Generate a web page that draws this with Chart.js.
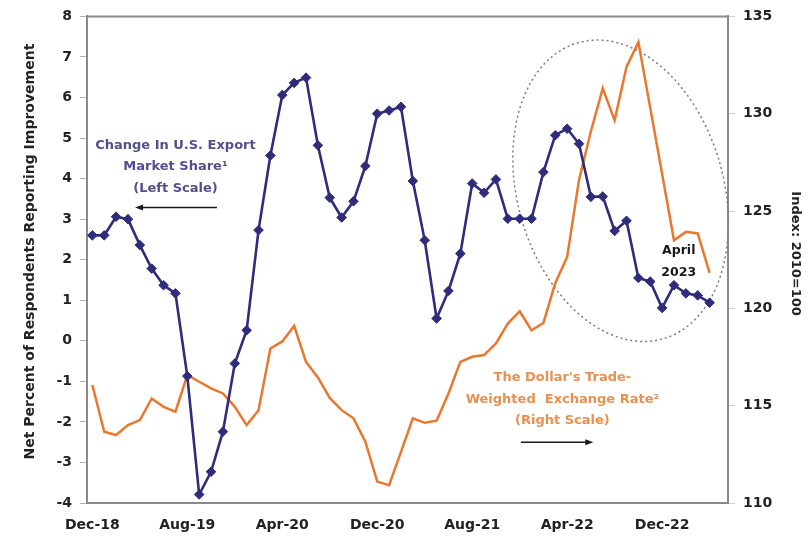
<!DOCTYPE html>
<html>
<head>
<meta charset="utf-8">
<script src="https://cdn.jsdelivr.net/npm/chart.js@4.4.1/dist/chart.umd.min.js"></script>
<style>
    body { margin: 0; background: #fff; }
    #wrap { width: 807px; height: 536px; }
</style>
</head>
<body>
<div id="wrap"><canvas id="exportChart"></canvas></div>
<script>
// Monthly, Dec-18 (index 0) through Apr-23 (index 52)
const tickLabels = ['Dec-18', 'Aug-19', 'Apr-20', 'Dec-20', 'Aug-21', 'Apr-22', 'Dec-22'];
const tickStep = 8;

// Change in U.S. export market share (left scale)
const exportShare = [
    2.60, 2.60, 3.06, 3.00, 2.36, 1.78, 1.37, 1.17, -0.87, -3.79,
    -3.23, -2.24, -0.56, 0.26, 2.73, 4.57, 6.06, 6.36, 6.49, 4.82,
    3.53, 3.04, 3.44, 4.31, 5.60, 5.68, 5.77, 3.94, 2.48, 0.55,
    1.23, 2.15, 3.88, 3.65, 3.98, 3.01, 3.01, 3.01, 4.16, 5.07,
    5.23, 4.86, 3.55, 3.56, 2.71, 2.96, 1.55, 1.46, 0.81, 1.37,
    1.17, 1.12, 0.94
];

// Dollar's trade-weighted exchange rate (right scale)
const dollarIndex = [
    116.06, 113.66, 113.49, 114.00, 114.26, 115.37, 114.94, 114.69, 116.57, 116.23,
    115.89, 115.63, 114.94, 114.00, 114.77, 117.94, 118.30, 119.10, 117.25, 116.45,
    115.40, 114.77, 114.35, 113.15, 111.10, 110.92, 112.63, 114.35, 114.12, 114.23,
    115.63, 117.25, 117.51, 117.60, 118.20, 119.22, 119.85, 118.87, 119.25, 121.30,
    122.64, 126.60, 129.10, 131.30, 129.66, 132.40, 133.68, 130.30, 126.90, 123.50,
    123.93, 123.85, 121.82
];

const FONT = 'DejaVu Sans';
const BLUE = '#2f2c7c';
const ORANGE = '#e8782f';

// Draws the dotted ellipse, axis titles, text notes and arrows
const notesPlugin = {
    id: 'notes',
    beforeDatasetsDraw(chart) {
        const { ctx, scales } = chart;
        const cx = scales.x.getPixelForValue(44.5);
        const cy = scales.y.getPixelForValue(3.7);
        ctx.save();
        ctx.setLineDash([2, 3]);
        ctx.strokeStyle = '#7a7a7a';
        ctx.lineWidth = 1.5;
        ctx.beginPath();
        ctx.ellipse(cx, cy, 103, 154, -0.28, 0, Math.PI * 2);
        ctx.stroke();
        ctx.restore();
    },
    afterDatasetsDraw(chart) {
        const { ctx, scales, chartArea } = chart;
        const x = scales.x, y = scales.y;

        // top border of the plot box
        ctx.save();
        ctx.strokeStyle = '#8a8a8a';
        ctx.lineWidth = 2;
        ctx.beginPath();
        ctx.moveTo(chartArea.left, chartArea.top);
        ctx.lineTo(chartArea.right, chartArea.top);
        ctx.stroke();

        ctx.textAlign = 'center';
        ctx.textBaseline = 'middle';

        // axis titles
        ctx.fillStyle = '#222';
        ctx.font = `bold 14px "${FONT}"`;
        ctx.save();
        ctx.translate(30, y.getPixelForValue(2.2));
        ctx.rotate(-Math.PI / 2);
        ctx.fillText('Net Percent of Respondents Reporting Improvement', 0, 0);
        ctx.restore();
        ctx.font = `bold 13px "${FONT}"`;
        ctx.save();
        ctx.translate(795, y.getPixelForValue(2.15));
        ctx.rotate(Math.PI / 2);
        ctx.fillText('Index: 2010=100', 0, 0);
        ctx.restore();

        ctx.font = `bold 13px "${FONT}"`;
        const lines = (cxv, cyv, texts, color) => {
            ctx.fillStyle = color;
            const px = x.getPixelForValue(cxv);
            const py = y.getPixelForValue(cyv);
            texts.forEach((t, i) => ctx.fillText(t, px, py + i * 21.5));
        };
        lines(7.0, 4.82, ['Change In U.S. Export', 'Market Share\u00B9', '(Left Scale)'], '#524f8c');
        lines(39.6, -0.92, ["The Dollar's Trade-", 'Weighted  Exchange Rate\u00B2', '(Right Scale)'], '#e8904f');

        ctx.fillStyle = '#1a1a1a';
        ctx.font = `bold 12.5px "${FONT}"`;
        ctx.fillText('April', x.getPixelForValue(49.4), y.getPixelForValue(2.23));
        ctx.fillText('2023', x.getPixelForValue(49.4), y.getPixelForValue(1.69));

        const arrow = (x0, x1, yv) => {
            const px0 = x.getPixelForValue(x0);
            const px1 = x.getPixelForValue(x1);
            const py = y.getPixelForValue(yv);
            const dir = Math.sign(px1 - px0);
            ctx.strokeStyle = '#1a1a1a';
            ctx.fillStyle = '#1a1a1a';
            ctx.lineWidth = 1.5;
            ctx.beginPath();
            ctx.moveTo(px0, py);
            ctx.lineTo(px1 - dir * 5, py);
            ctx.stroke();
            ctx.beginPath();
            ctx.moveTo(px1, py);
            ctx.lineTo(px1 - dir * 8, py - 3);
            ctx.lineTo(px1 - dir * 8, py + 3);
            ctx.closePath();
            ctx.fill();
        };
        arrow(10.5, 3.6, 3.29);
        arrow(36.1, 42.2, -2.50);
        ctx.restore();
    }
};

const tickFont = { family: FONT, size: 14, weight: 'bold' };

const ctx = document.getElementById('exportChart').getContext('2d');
const exportChart = new Chart(ctx, {
    type: 'line',
    data: {
        datasets: [
            {
                label: 'Change In U.S. Export Market Share',
                data: exportShare.map((v, i) => ({ x: i, y: v })),
                borderColor: BLUE,
                backgroundColor: BLUE,
                borderWidth: 2.6,
                pointStyle: 'rectRot',
                pointRadius: 4.8,
                pointBorderWidth: 1,
                tension: 0,
                yAxisID: 'y'
            },
            {
                label: "The Dollar's Trade-Weighted Exchange Rate",
                data: dollarIndex.map((v, i) => ({ x: i, y: v })),
                borderColor: ORANGE,
                backgroundColor: ORANGE,
                borderWidth: 2.5,
                pointRadius: 0,
                tension: 0,
                yAxisID: 'y1'
            }
        ]
    },
    options: {
        responsive: true,
        maintainAspectRatio: false,
        animation: false,
        layout: { padding: { top: 16, left: 0, right: 0, bottom: 0 } },
        plugins: {
            legend: { display: false },
            tooltip: { enabled: false }
        },
        scales: {
            x: {
                type: 'linear',
                min: -0.45,
                max: 53.55,
                afterBuildTicks: (scale) => {
                    scale.ticks = tickLabels.map((_, i) => ({ value: i * tickStep }));
                },
                afterFit: (scale) => { scale.height = 33; },
                ticks: {
                    callback: (v) => tickLabels[v / tickStep],
                    color: '#222',
                    font: tickFont,
                    padding: 14,
                    maxRotation: 0
                },
                grid: { display: false, drawTicks: false },
                border: { display: true, color: '#8a8a8a', width: 2 }
            },
            y: {
                position: 'left',
                min: -4,
                max: 8,
                afterFit: (scale) => { scale.width = 87; },
                ticks: {
                    stepSize: 1,
                    color: '#222',
                    font: tickFont,
                    padding: 8
                },
                grid: { drawOnChartArea: false, drawTicks: true, tickLength: 7, color: '#b0b0b0' },
                border: { display: true, color: '#8a8a8a', width: 2 }
            },
            y1: {
                position: 'right',
                min: 110,
                max: 135,
                afterFit: (scale) => { scale.width = 79; },
                ticks: {
                    stepSize: 5,
                    color: '#222',
                    font: tickFont,
                    padding: 8
                },
                grid: { drawOnChartArea: false, drawTicks: true, tickLength: 7, color: '#d0d0d0' },
                border: { display: true, color: '#8a8a8a', width: 2 }
            }
        }
    },
    plugins: [notesPlugin]
});
</script>
</body>
</html>
